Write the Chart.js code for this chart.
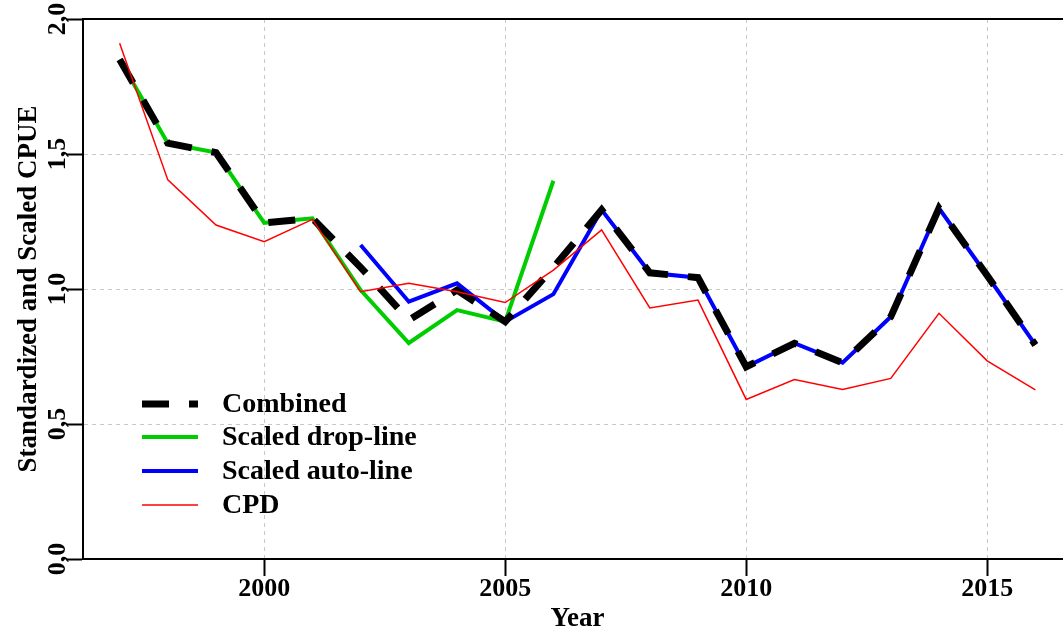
<!DOCTYPE html>
<html>
<head>
<meta charset="utf-8">
<script src="https://cdn.jsdelivr.net/npm/chart.js@4"></script>
<style>
  html, body { margin: 0; padding: 0; background: #fff; overflow: hidden; }
  canvas { display: block; }
</style>
</head>
<body>
<canvas id="chart" width="1080" height="630" style="width:1080px;height:630px"></canvas>
<script>
// values
const years = [1997, 1998, 1999, 2000, 2001, 2002, 2003, 2004, 2005, 2006,
               2007, 2008, 2009, 2010, 2011, 2012, 2013, 2014, 2015, 2016];
const combined = [1.85, 1.54, 1.505, 1.245, 1.262, 1.08, 0.885, 0.996, 0.879, 1.08,
                  1.293, 1.06, 1.042, 0.712, 0.799, 0.727, 0.897, 1.299, 1.05, 0.793];
const dropLine = [1.85, 1.54, 1.505, 1.245, 1.262, 0.996, 0.80, 0.922, 0.879, 1.401,
                  null, null, null, null, null, null, null, null, null, null];
const autoLine = [null, null, null, null, null, 1.163, 0.953, 1.021, 0.879, 0.981,
                  1.293, 1.06, 1.042, 0.712, 0.799, 0.727, 0.897, 1.299, 1.05, 0.793];
const cpd = [1.91, 1.404, 1.237, 1.175, 1.258, 0.99, 1.021, 0.99, 0.95, 1.07,
             1.219, 0.93, 0.959, 0.591, 0.665, 0.628, 0.669, 0.91, 0.734, 0.626];
const xTicks = [2000, 2005, 2010, 2015];
const yTicks = [0, 0.5, 1.0, 1.5, 2.0];

const serif = '"Liberation Serif", "Times New Roman", serif';

function pts(vals) {
  return years.map((y, i) => ({ x: y, y: vals[i] }));
}

// top frame line + legend inside the plot
const extras = {
  id: 'extras',
  afterDraw(chart) {
    const ctx = chart.ctx;
    const a = chart.chartArea;
    ctx.save();
    ctx.strokeStyle = '#000';
    ctx.lineWidth = 2;
    ctx.beginPath();
    ctx.moveTo(a.left, a.top);
    ctx.lineTo(a.right, a.top);
    ctx.stroke();

    const rows = [404, 437, 471, 505];
    ctx.font = 'bold 28px ' + serif;
    ctx.textBaseline = 'middle';
    ctx.textAlign = 'left';
    chart.data.datasets.forEach((ds, i) => {
      const y = rows[i];
      ctx.strokeStyle = ds.borderColor;
      ctx.lineWidth = ds.borderWidth;
      ctx.setLineDash(ds.borderDash || []);
      ctx.beginPath();
      ctx.moveTo(142, y);
      ctx.lineTo(198, y);
      ctx.stroke();
      ctx.setLineDash([]);
      ctx.fillStyle = '#000';
      ctx.fillText(ds.label, 222, y + 1);
    });
    ctx.restore();
  }
};

new Chart(document.getElementById('chart'), {
  type: 'line',
  data: {
    datasets: [
      { label: 'Combined', data: pts(combined), borderColor: '#000000', borderWidth: 7,
        borderDash: [27, 20], order: 1 },
      { label: 'Scaled drop-line', data: pts(dropLine), borderColor: '#00cd00', borderWidth: 4, order: 3 },
      { label: 'Scaled auto-line', data: pts(autoLine), borderColor: '#0000ff', borderWidth: 4, order: 2 },
      { label: 'CPD', data: pts(cpd), borderColor: '#ff0000', borderWidth: 1.5, order: 0 }
    ]
  },
  options: {
    responsive: false,
    animation: false,
    devicePixelRatio: 1,
    spanGaps: false,
    elements: {
      point: { radius: 0 },
      line: { tension: 0, fill: false, borderCapStyle: 'butt', borderJoinStyle: 'miter' }
    },
    layout: { padding: { top: 19, right: 8, left: 0, bottom: 0 } },
    plugins: { legend: { display: false }, tooltip: { enabled: false } },
    scales: {
      x: {
        type: 'linear',
        min: 1996.24,
        max: 2016.76,
        afterFit(s) { s.height = 71; },
        afterBuildTicks(s) { s.ticks = xTicks.map(v => ({ value: v })); },
        ticks: {
          color: '#000',
          font: { family: serif, size: 26, weight: 'bold' },
          padding: -2,
          maxRotation: 0,
          callback: v => String(v)
        },
        grid: {
          color: '#c8c8c8',
          lineWidth: 1,
          tickLength: 17,
          tickColor: '#000',
          tickWidth: 2
        },
        border: { display: true, color: '#000', width: 2, dash: [4, 4] },
        title: {
          display: true,
          text: 'Year',
          color: '#000',
          font: { family: serif, size: 27, weight: 'bold', lineHeight: 1.0 },
          padding: { top: 0, bottom: -3 }
        }
      },
      y: {
        min: 0,
        max: 2,
        afterFit(s) { s.width = 83; },
        afterBuildTicks(s) { s.ticks = yTicks.map(v => ({ value: v })); },
        ticks: {
          color: '#000',
          font: { family: serif, size: 26, weight: 'bold' },
          minRotation: 90,
          maxRotation: 90,
          crossAlign: 'center',
          padding: -9,
          callback: v => v.toFixed(1).replace('.', ',')
        },
        grid: {
          color: '#c8c8c8',
          lineWidth: 1,
          tickLength: 17,
          tickColor: '#000',
          tickWidth: 2
        },
        border: { display: true, color: '#000', width: 2, dash: [4, 4] },
        title: {
          display: true,
          text: 'Standardized and Scaled CPUE',
          color: '#000',
          font: { family: serif, size: 27, weight: 'bold' },
          padding: { top: 13, bottom: 0 }
        }
      }
    }
  },
  plugins: [extras]
});
</script>
</body>
</html>
